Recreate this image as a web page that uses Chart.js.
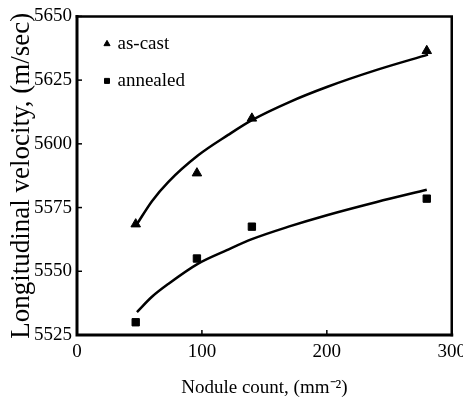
<!DOCTYPE html>
<html>
<head>
<meta charset="utf-8">
<script src="https://cdn.jsdelivr.net/npm/chart.js@4/dist/chart.umd.min.js"></script>
<style>
  html, body { margin: 0; padding: 0; background: #fff; overflow: hidden; }
  #wrap { position: relative; width: 472px; height: 403px; }
</style>
</head>
<body>
<div id="wrap"><canvas id="c"></canvas></div>
<script>
// ---- data ----
const noduleCount = [47, 96, 140, 280];
const asCastVelocity = [5568.5, 5588.5, 5610, 5636.5];
const annealedVelocity = [5530, 5555, 5567.5, 5578.5];

const asCastFitX = [48, 60, 73, 97, 121, 140, 170, 200, 240, 281];
const asCastFitY = [5568.5, 5577.5, 5585, 5595.5, 5603.5, 5609.3, 5616.4, 5622.3, 5629, 5635];
const annealedFitX = [48, 60, 73, 97, 120, 140, 170, 200, 240, 280];
const annealedFitY = [5534, 5540, 5545, 5553, 5558.3, 5562.6, 5567.6, 5572, 5577.2, 5582];

const xTickValues = [0, 100, 200, 300];
const yTickValues = [5525, 5550, 5575, 5600, 5625, 5650];

const seriesLabels = ['as-cast', 'annealed'];
const xTitle = 'Nodule count, (mm\u207B\u00B2)';
const yTitle = 'Longitudinal velocity, (m/sec)';

const toPts = (xs, ys) => xs.map((x, i) => ({ x: x, y: ys[i] }));
const serif = '"Liberation Serif", "Times New Roman", serif';

const frameAndTicks = {
  id: 'frameAndTicks',
  afterDraw(chart) {
    const { ctx, chartArea: a, scales: { x, y } } = chart;
    ctx.save();
    ctx.strokeStyle = '#000';
    ctx.lineCap = 'square';
    ctx.lineWidth = 3;
    ctx.beginPath();
    ctx.moveTo(a.left, a.top);
    ctx.lineTo(a.left, a.bottom);
    ctx.lineTo(a.right, a.bottom);
    ctx.stroke();
    ctx.lineWidth = 2.5;
    ctx.beginPath();
    ctx.moveTo(a.left, a.top);
    ctx.lineTo(a.right, a.top);
    ctx.lineTo(a.right, a.bottom);
    ctx.stroke();
    ctx.lineWidth = 1.5;
    ctx.lineCap = 'butt';
    x.ticks.forEach(t => {
      const px = x.getPixelForValue(t.value);
      ctx.beginPath(); ctx.moveTo(px, a.bottom); ctx.lineTo(px, a.bottom - 5); ctx.stroke();
    });
    y.ticks.forEach(t => {
      const py = y.getPixelForValue(t.value);
      ctx.beginPath(); ctx.moveTo(a.left, py); ctx.lineTo(a.left + 5, py); ctx.stroke();
    });
    ctx.restore();
  }
};

const legendPlace = {
  id: 'legendPlace',
  afterLayout(chart) {
    const l = chart.legend, a = chart.chartArea;
    if (!l) return;
    l.left = a.left + 11;
    l.right = a.right;
    l.top = a.top;
    l.bottom = a.bottom;
  }
};

new Chart(document.getElementById('c'), {
  type: 'scatter',
  data: {
    datasets: [
      {
        label: seriesLabels[0],
        data: toPts(noduleCount, asCastVelocity),
        pointStyle: 'triangle',
        pointRadius: 5.5,
        backgroundColor: '#000',
        borderColor: '#000',
        borderWidth: 1
      },
      {
        label: seriesLabels[1],
        data: toPts(noduleCount, annealedVelocity),
        pointStyle: 'rect',
        pointRadius: 5.2,
        backgroundColor: '#000',
        borderColor: '#000',
        borderWidth: 1
      },
      {
        label: 'fit-as-cast',
        data: toPts(asCastFitX, asCastFitY),
        showLine: true,
        pointRadius: 0,
        borderColor: '#000',
        borderWidth: 2.5,
        cubicInterpolationMode: 'monotone',
        fill: false
      },
      {
        label: 'fit-annealed',
        data: toPts(annealedFitX, annealedFitY),
        showLine: true,
        pointRadius: 0,
        borderColor: '#000',
        borderWidth: 2.5,
        cubicInterpolationMode: 'monotone',
        fill: false
      }
    ]
  },
  options: {
    responsive: true,
    maintainAspectRatio: false,
    animation: false,
    events: [],
    layout: { padding: { top: 15, right: 15, left: 0, bottom: 0 } },
    plugins: {
      tooltip: { enabled: false },
      legend: {
        position: 'chartArea',
        align: 'start',
        labels: {
          usePointStyle: true,
          boxWidth: 2,
          boxHeight: 5,
          padding: 18,
          color: '#000',
          font: { family: serif, size: 19 },
          filter: item => seriesLabels.includes(item.text)
        }
      }
    },
    scales: {
      x: {
        type: 'linear',
        min: 0,
        max: 300,
        afterBuildTicks: s => { s.ticks = xTickValues.map(v => ({ value: v })); },
        afterFit: s => { s.height = 68; },
        grid: { display: false, drawTicks: false },
        border: { display: false },
        ticks: {
          padding: 6,
          color: '#000',
          font: { family: serif, size: 19 },
          callback: v => String(v)
        },
        title: {
          display: true,
          text: xTitle,
          color: '#000',
          font: { family: serif, size: 19 },
          padding: { top: 0, bottom: 4 }
        }
      },
      y: {
        type: 'linear',
        min: 5525,
        max: 5650,
        afterBuildTicks: s => { s.ticks = yTickValues.map(v => ({ value: v })); },
        afterFit: s => { s.width = 77; },
        grid: { display: false, drawTicks: false },
        border: { display: false },
        ticks: {
          padding: 5,
          color: '#000',
          font: { family: serif, size: 19 },
          callback: v => String(v)
        },
        title: {
          display: true,
          text: yTitle,
          color: '#000',
          font: { family: serif, size: 27 },
          padding: { top: 6, bottom: 0 }
        }
      }
    }
  },
  plugins: [frameAndTicks, legendPlace]
});
</script>
</body>
</html>
